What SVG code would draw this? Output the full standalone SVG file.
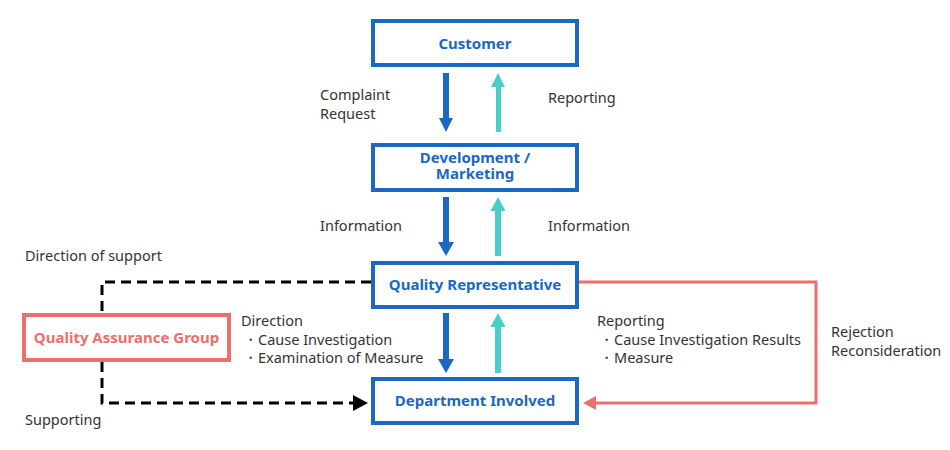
<svg xmlns="http://www.w3.org/2000/svg" width="950" height="450" viewBox="0 0 950 450">
<style>
.box{fill:#fff;stroke:#1a68c2;stroke-width:4}
.pbox{fill:#fff;stroke:#ee6e6e;stroke-width:4}
.bt{font-family:"Noto Sans","Open Sans",sans-serif;font-size:15px;font-weight:bold;fill:#1a68c2;text-anchor:middle}
.pt{font-family:"Noto Sans","Open Sans",sans-serif;font-size:15px;font-weight:bold;fill:#ee6e6e;text-anchor:middle}
.lt{font-family:"Noto Sans","Open Sans",sans-serif;font-size:14.5px;fill:#333}
.down{fill:#1a68c2}
.up{fill:#48cfc8}
</style>
<rect width="950" height="450" fill="#fff"/>
<g id="customer">
<rect class="box" x="373" y="21" width="204" height="44"/>
<text class="bt" x="475" y="49">Customer</text>
</g>
<g id="development">
<rect class="box" x="373" y="145" width="204" height="45"/>
<text class="bt" x="475" y="163">Development /</text>
<text class="bt" x="475" y="179">Marketing</text>
</g>
<g id="quality-rep">
<rect class="box" x="373" y="263" width="204" height="44"/>
<text class="bt" x="475" y="290">Quality Representative</text>
</g>
<g id="department">
<rect class="box" x="373" y="379" width="204" height="44"/>
<text class="bt" x="475" y="406">Department Involved</text>
</g>
<g id="qag">
<rect class="pbox" x="24" y="315" width="205" height="45"/>
<text class="pt" x="126.5" y="343">Quality Assurance Group</text>
</g>
<g id="connectors">
<polygon class="down" points="443,73 449,73 449,118 453,118 446,132 439,118 443,118"/>
<polygon class="up" points="496,132 501,132 501,87 505,87 498,73 491,87 496,87"/>
<polygon class="down" points="443,197 449,197 449,242 454,242 446,256 438,242 443,242"/>
<polygon class="up" points="495,256 501,256 501,211 505.5,211 498,197 490.5,211 495,211"/>
<polygon class="down" points="443,313 449,313 449,359 454,359 446,373 438,359 443,359"/>
<polygon class="up" points="495,373 501,373 501,327 505.5,327 498,313 490.5,327 495,327"/>
<path d="M371,282 H102 V313" fill="none" stroke="#000" stroke-width="3" stroke-dasharray="10,6"/>
<path d="M102,362 V403 H354" fill="none" stroke="#000" stroke-width="3" stroke-dasharray="10,6"/>
<polygon points="353,395 368,403 353,411" fill="#000"/>
<path d="M579,282 H816 V403 H595" fill="none" stroke="#ee6e6e" stroke-width="3"/>
<polygon points="583,403 596,396 596,410" fill="#ee6e6e"/>
</g>
<g id="labels">
<text class="lt" x="320" y="100">Complaint</text>
<text class="lt" x="320" y="119">Request</text>
<text class="lt" x="548" y="103">Reporting</text>
<text class="lt" x="320" y="231">Information</text>
<text class="lt" x="548" y="231">Information</text>
<text class="lt" x="25" y="261">Direction of support</text>
<text class="lt" x="241" y="326">Direction</text>
<text class="lt" x="243" y="345">・Cause Investigation</text>
<text class="lt" x="243" y="363">・Examination of Measure</text>
<text class="lt" x="25" y="425">Supporting</text>
<text class="lt" x="597" y="326">Reporting</text>
<text class="lt" x="599" y="345">・Cause Investigation Results</text>
<text class="lt" x="599" y="363">・Measure</text>
<text class="lt" x="831" y="337">Rejection</text>
<text class="lt" x="831" y="356">Reconsideration</text>
</g>
</svg>
